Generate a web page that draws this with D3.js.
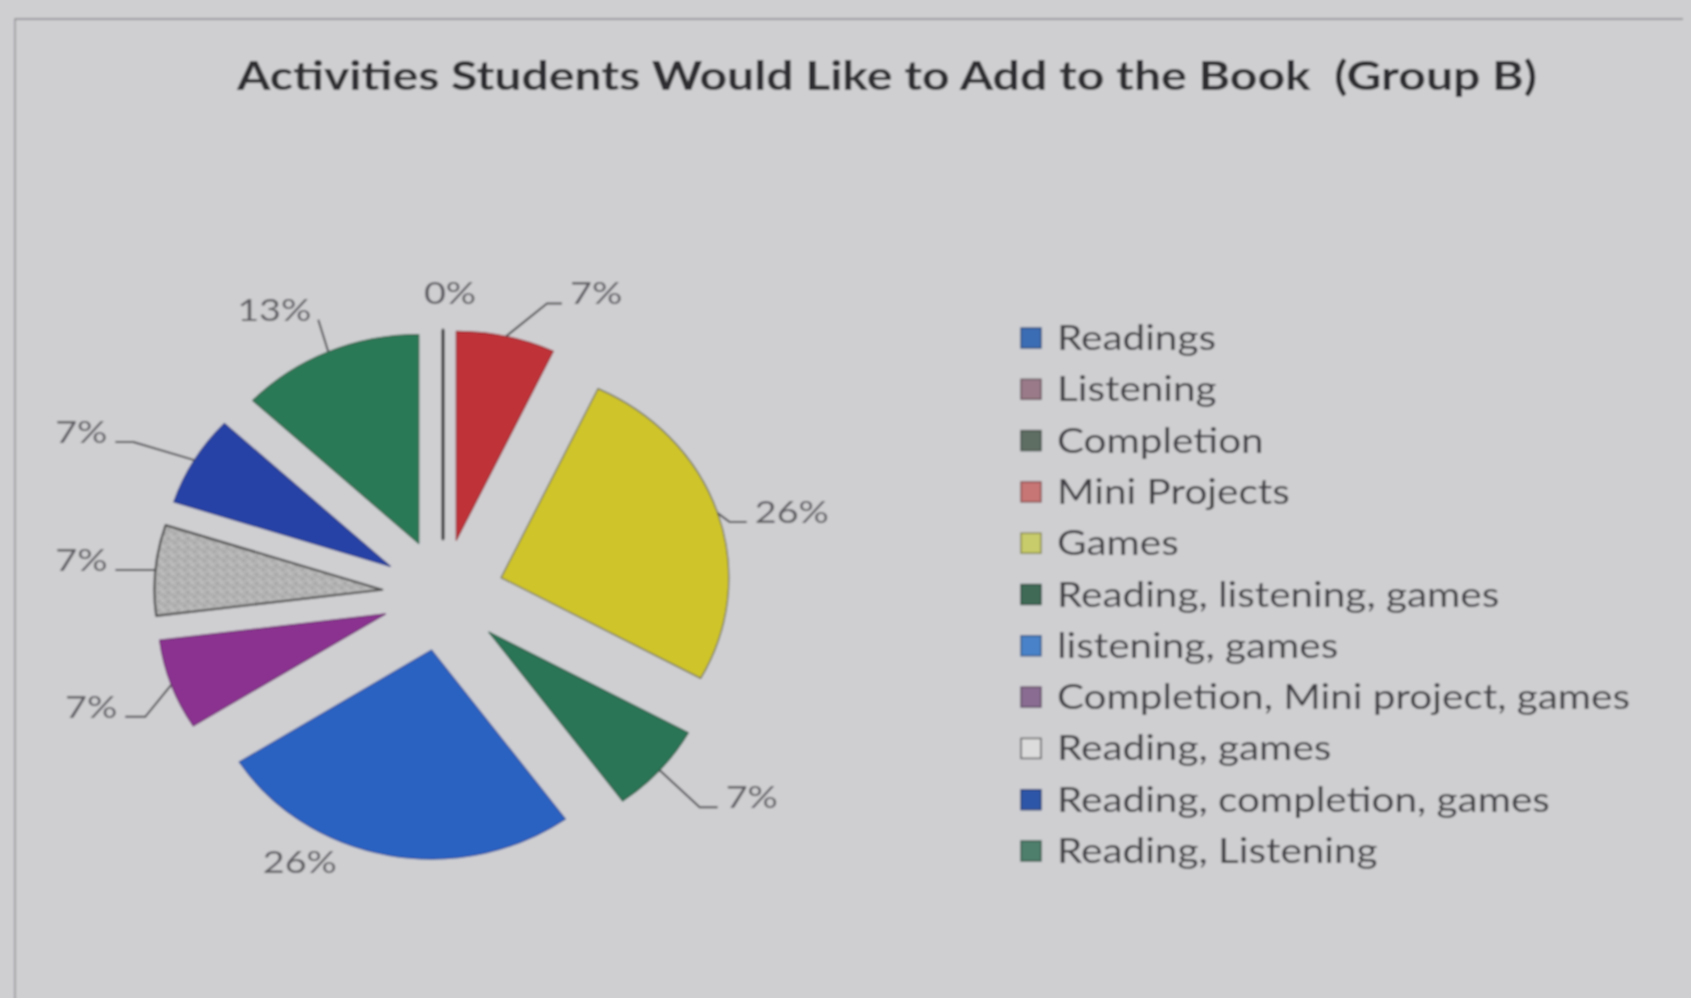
<!DOCTYPE html>
<html>
<head>
<meta charset="utf-8">
<script src="https://cdn.jsdelivr.net/npm/d3@7"></script>
<style>
  html, body { margin: 0; padding: 0; background: #cfcfd2; }
  svg { display: block; }
</style>
</head>
<body>
<script>
// Survey answers, Group B
const categories = [
  "Readings", "Listening", "Completion", "Mini Projects", "Games",
  "Reading, listening, games", "listening, games",
  "Completion, Mini project, games", "Reading, games",
  "Reading, completion, games", "Reading, Listening"
];
const values = [0, 0, 0, 7, 26, 7, 26, 7, 7, 7, 13];

// Colours of the coloured-in slices and of the printed legend keys
const sliceColors = [
  "#2f2f33", "#2f2f33", "#2f2f33", "#bf3038", "#cfc52b",
  "#2a7556", "#2b62c2", "#8b3190", "url(#stipple)", "#2742a6", "#2b7956"
];
const legendColors = [
  "#3b6db5", "#9a7a88", "#5e6e63", "#c87474", "#c9cc6a",
  "#3f6a57", "#4a82c8", "#8a6c92", "#dcdcdc", "#2e57a8", "#4e7f6c"
];

// Where each percentage label sits relative to the rim of its slice
const labelNudges = [
  { dx: 7,   dy: -27, elbow: null, anchor: "middle" },
  null,
  null,
  { dx: 56,  dy: -33, elbow: 15 },
  { dx: 29,  dy: 9,   elbow: 17 },
  { dx: 58,  dy: 37,  elbow: 18 },
  { dx: -52, dy: 17,  elbow: null, anchor: "end" },
  { dx: -46, dy: 32,  elbow: 20 },
  { dx: -40, dy: 0,   elbow: 20 },
  { dx: -79, dy: -18, elbow: 18 },
  { dx: -10, dy: -32, elbow: 0 }
];

const W = 1691, H = 998;
const cx = 443, cy = 595, R = 209, explode = 56, sx = 1.09;
const stretch = `scale(${sx},1)`;

const svg = d3.select("body").append("svg")
  .attr("width", W).attr("height", H);

const defs = svg.append("defs");
defs.append("filter").attr("id", "soft")
  .attr("x", "-5%").attr("y", "-5%").attr("width", "110%").attr("height", "110%")
  .append("feGaussianBlur").attr("stdDeviation", 0.8);

// pencil-shaded grey fill
const stip = defs.append("pattern").attr("id", "stipple")
  .attr("patternUnits", "userSpaceOnUse").attr("width", 9).attr("height", 9);
stip.append("rect").attr("width", 9).attr("height", 9).attr("fill", "#b4b4b4");
[[1, 2, "#8e8e8e"], [5, 1, "#d0d0d0"], [7, 6, "#939393"], [3, 7, "#c8c8c8"], [4, 4, "#a0a0a0"]]
  .forEach(([x, y, c]) => stip.append("rect").attr("x", x).attr("y", y)
    .attr("width", 1.6).attr("height", 1.6).attr("fill", c));

const root = svg.append("g").attr("filter", "url(#soft)");

root.append("rect").attr("width", W).attr("height", H).attr("fill", "#cfcfd2");

// chart frame
root.append("path")
  .attr("d", "M15,1005V19H1683")
  .attr("fill", "none").attr("stroke", "#8a8a8e").attr("stroke-width", 1.3);

// title
root.append("text")
  .attr("x", 887).attr("y", 90)
  .attr("text-anchor", "middle")
  .attr("font-family", "Lato, 'Open Sans', sans-serif")
  .attr("font-weight", 700)
  .attr("font-size", 41)
  .attr("fill", "#2e2e30")
  .attr("textLength", 1300)
  .attr("lengthAdjust", "spacingAndGlyphs")
  .style("white-space", "pre")
  .text("Activities Students Would Like to Add to the Book  (Group B)");

// exploded pie
const total = d3.sum(values);
const pie = d3.pie().sort(null).value(d => d.value).startAngle(0).endAngle(2 * Math.PI);
const arcs = pie(categories.map((c, i) => ({ name: c, value: values[i], i })));
const arc = d3.arc().innerRadius(0).outerRadius(R);
const mid = a => (a.startAngle + a.endAngle) / 2;

const pieG = root.append("g").attr("transform", `translate(${cx},${cy}) ${stretch}`);
pieG.selectAll("path.slice")
  .data(arcs)
  .join("path")
  .attr("class", "slice")
  .attr("transform", a => `translate(${explode * Math.sin(mid(a))},${-explode * Math.cos(mid(a))})`)
  .attr("d", arc)
  .attr("fill", a => sliceColors[a.data.i])
  .attr("stroke", a => a.data.value === 0 ? "#2a2a2e"
        : a.data.i === 8 ? "#48484a"
        : a.data.i === 4 ? "#6a6a4a"
        : d3.color(sliceColors[a.data.i]).darker(0.7))
  .attr("stroke-width", a => a.data.value === 0 ? 2.4 : a.data.i === 8 ? 2.2 : 1.2)
  .attr("stroke-linejoin", "round")
  .attr("vector-effect", "non-scaling-stroke");

// rim point of a slice, in page coordinates
const rim = a => {
  const m = mid(a);
  return [cx + sx * Math.sin(m) * (R + explode), cy - Math.cos(m) * (R + explode)];
};

const labelFont = "Lato, 'Open Sans', sans-serif";
const labelStretch = "scale(1.22,1)";
let zeroShown = false;
arcs.forEach(a => {
  const nudge = labelNudges[a.data.i];
  if (!nudge) return;
  if (a.data.value === 0) {
    if (zeroShown) return;
    zeroShown = true;
  }
  const [px, py] = rim(a);
  const ex = px + nudge.dx, ey = py + nudge.dy;
  const side = nudge.dx >= 0 ? 1 : -1;
  let tx = ex, anchor = nudge.anchor;
  if (nudge.elbow !== null) {
    const bx = ex - side * nudge.elbow;
    root.append("path")
      .attr("d", `M${px},${py}L${bx},${ey}L${ex},${ey}`)
      .attr("fill", "none").attr("stroke", "#4a4a4e").attr("stroke-width", 2);
    tx = ex + side * (nudge.elbow === 0 ? 7 : 8);
    anchor = side > 0 ? "start" : "end";
  }
  const pct = Math.round(a.data.value / total * 100) + "%";
  root.append("text")
    .attr("transform", `translate(${tx},${ey + 1}) ${labelStretch}`)
    .attr("text-anchor", anchor)
    .attr("font-family", labelFont)
    .attr("font-size", 31)
    .attr("fill", "#5c5c60")
    .text(pct);
});

// legend
const legend = root.append("g");
const rowH = 51.3, firstRowY = 338;
const rows = legend.selectAll("g.row")
  .data(categories)
  .join("g")
  .attr("class", "row")
  .attr("transform", (d, i) => `translate(0,${firstRowY + i * rowH})`);
rows.append("rect")
  .attr("x", 1021).attr("y", -10)
  .attr("width", 20).attr("height", 20)
  .attr("fill", (d, i) => legendColors[i])
  .attr("stroke", (d, i) => i === 8 ? "#555558" : d3.color(legendColors[i]).darker(1.2))
  .attr("stroke-width", 1.4);
rows.append("text")
  .attr("transform", `translate(1057,12) scale(1.19,1)`)
  .attr("font-family", labelFont)
  .attr("font-size", 34)
  .attr("fill", "#404044")
  .text(d => d);
</script>
</body>
</html>
